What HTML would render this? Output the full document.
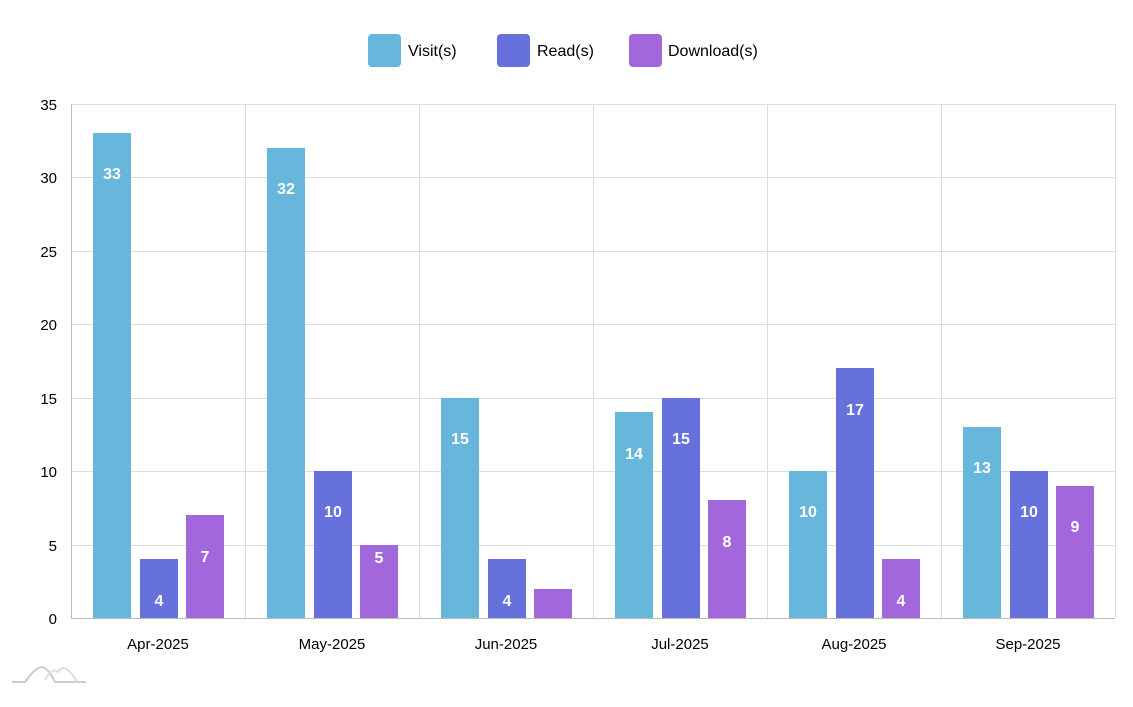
<!DOCTYPE html>
<html><head><meta charset="utf-8"><style>
html,body{margin:0;padding:0;background:#fff;}
svg{display:block;font-family:"Liberation Sans",sans-serif;}
</style></head><body>
<svg width="1133" height="707" viewBox="0 0 1133 707" xmlns="http://www.w3.org/2000/svg">
<!-- legend -->
<rect x="368" y="34" width="33" height="33" rx="4" fill="#67b7dc"/>
<text x="408" y="56" font-size="16" fill="#000">Visit(s)</text>
<rect x="497" y="34" width="33" height="33" rx="4" fill="#6771dc"/>
<text x="537" y="56" font-size="16" fill="#000">Read(s)</text>
<rect x="629" y="34" width="33" height="33" rx="4" fill="#a367dc"/>
<text x="668" y="56" font-size="16" fill="#000">Download(s)</text>
<!-- grid -->
<g stroke="#dcdcdc" stroke-width="1">
<line x1="72" y1="104.5" x2="1115" y2="104.5"/>
<line x1="72" y1="177.5" x2="1115" y2="177.5"/>
<line x1="72" y1="251.5" x2="1115" y2="251.5"/>
<line x1="72" y1="324.5" x2="1115" y2="324.5"/>
<line x1="72" y1="398.5" x2="1115" y2="398.5"/>
<line x1="72" y1="471.5" x2="1115" y2="471.5"/>
<line x1="72" y1="545.5" x2="1115" y2="545.5"/>
<line x1="245.5" y1="104" x2="245.5" y2="618"/>
<line x1="419.5" y1="104" x2="419.5" y2="618"/>
<line x1="593.5" y1="104" x2="593.5" y2="618"/>
<line x1="767.5" y1="104" x2="767.5" y2="618"/>
<line x1="941.5" y1="104" x2="941.5" y2="618"/>
<line x1="1115.5" y1="104" x2="1115.5" y2="618"/>
</g>
<line x1="71.5" y1="104" x2="71.5" y2="618" stroke="#bbb"/>
<line x1="71" y1="618.5" x2="1115" y2="618.5" stroke="#bbb"/>
<!-- y labels -->
<g font-size="15" text-anchor="end" fill="#000">
<text x="57" y="110">35</text><text x="57" y="183">30</text><text x="57" y="257">25</text>
<text x="57" y="330">20</text><text x="57" y="404">15</text><text x="57" y="477">10</text>
<text x="57" y="551">5</text><text x="57" y="624">0</text>
</g>
<!-- x labels -->
<g font-size="15" text-anchor="middle" fill="#000">
<text x="158" y="649">Apr-2025</text><text x="332" y="649">May-2025</text>
<text x="506" y="649">Jun-2025</text><text x="680" y="649">Jul-2025</text>
<text x="854" y="649">Aug-2025</text><text x="1028" y="649">Sep-2025</text>
</g>
<!-- bars -->
<g>
<rect x="93" y="133" width="38" height="485" fill="#67b7dc"/>
<rect x="140" y="559" width="38" height="59" fill="#6771dc"/>
<rect x="186" y="515" width="38" height="103" fill="#a367dc"/>
<rect x="267" y="148" width="38" height="470" fill="#67b7dc"/>
<rect x="314" y="471" width="38" height="147" fill="#6771dc"/>
<rect x="360" y="545" width="38" height="73" fill="#a367dc"/>
<rect x="441" y="398" width="38" height="220" fill="#67b7dc"/>
<rect x="488" y="559" width="38" height="59" fill="#6771dc"/>
<rect x="534" y="589" width="38" height="29" fill="#a367dc"/>
<rect x="615" y="412" width="38" height="206" fill="#67b7dc"/>
<rect x="662" y="398" width="38" height="220" fill="#6771dc"/>
<rect x="708" y="500" width="38" height="118" fill="#a367dc"/>
<rect x="789" y="471" width="38" height="147" fill="#67b7dc"/>
<rect x="836" y="368" width="38" height="250" fill="#6771dc"/>
<rect x="882" y="559" width="38" height="59" fill="#a367dc"/>
<rect x="963" y="427" width="38" height="191" fill="#67b7dc"/>
<rect x="1010" y="471" width="38" height="147" fill="#6771dc"/>
<rect x="1056" y="486" width="38" height="132" fill="#a367dc"/>
</g>
<g font-size="16" font-weight="bold" fill="#fff" text-anchor="middle">
<text x="112" y="179">33</text><text x="159" y="606">4</text><text x="205" y="562">7</text>
<text x="286" y="194">32</text><text x="333" y="517">10</text><text x="379" y="563">5</text>
<text x="460" y="444">15</text><text x="507" y="606">4</text>
<text x="634" y="459">14</text><text x="681" y="444">15</text><text x="727" y="547">8</text>
<text x="808" y="517">10</text><text x="855" y="415">17</text><text x="901" y="606">4</text>
<text x="982" y="473">13</text><text x="1029" y="517">10</text><text x="1075" y="532">9</text>
</g>
<!-- logo -->
<g fill="none" stroke-width="2">
<path d="M12 682 L25 682 Q35 668 41 667 Q48 667 55 682 L86 682" stroke="#ccc"/>
<path d="M45 680 Q52 667 58 672 Q63 664 70 672 L78 682" stroke="#ddd"/>
</g>
</svg>
</body></html>
